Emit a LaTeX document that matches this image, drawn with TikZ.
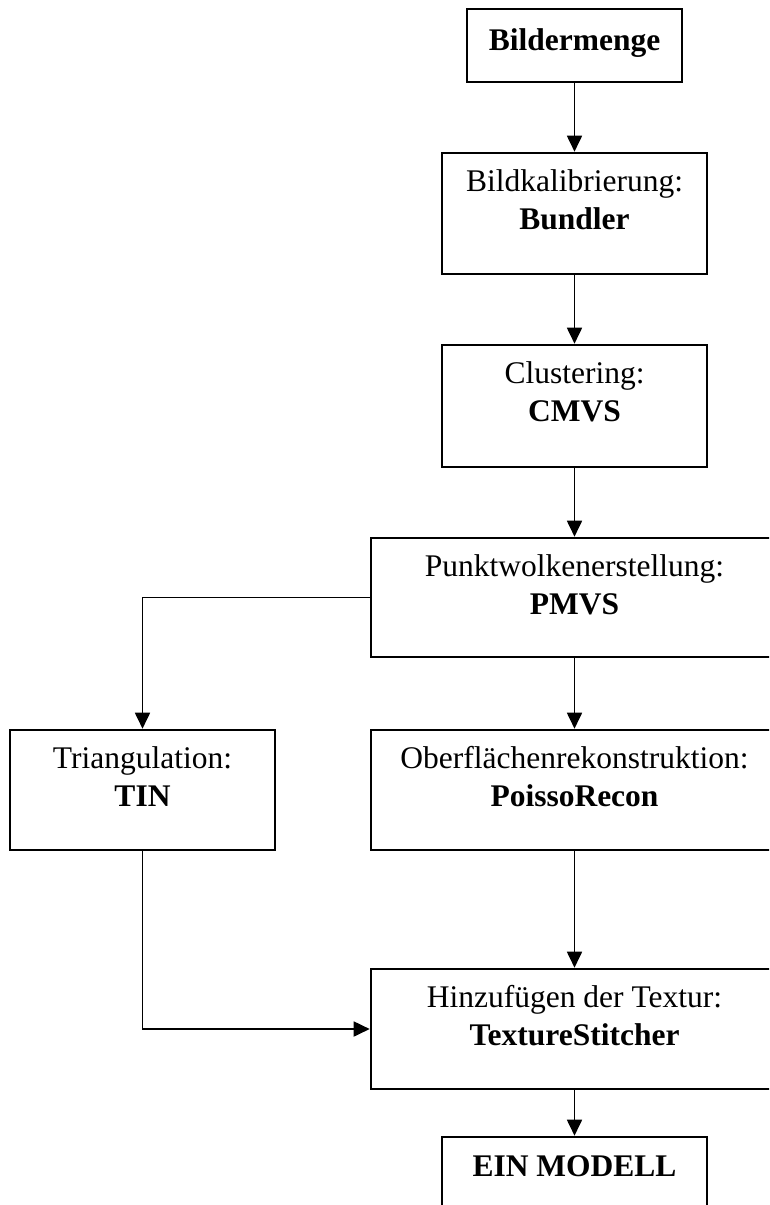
\documentclass[tikz,border=0pt]{standalone}
\usepackage{fontspec}
\setmainfont{Liberation Serif}
\usetikzlibrary{arrows.meta}
\begin{document}
\begin{tikzpicture}[x=1pt,y=-1pt,
  box/.style 2 args={draw, line width=2.6pt, inner sep=0pt, minimum width=#1, minimum height=#2},
  lbl/.style={anchor=north, align=center, inner sep=0pt, font=\fontsize{31.5}{38}\selectfont},
  arr/.style={line width=1.8pt, -{Triangle[length=16pt,width=15pt]}}]
\useasboundingbox (0,0) rectangle (769,1205);
\clip (0,0) rectangle (769,1205);
% boxes
\node[box={215pt}{73pt}]  (b1) at (574.5,45.5) {};
\node[box={265pt}{121pt}] (b2) at (574.5,213.5) {};
\node[box={265pt}{122pt}] (b3) at (574.5,406) {};
\node[box={407pt}{119pt}] (b4) at (574.5,597.5) {};
\node[box={265pt}{120pt}] (b5) at (142.5,790) {};
\node[box={407pt}{120pt}] (b6) at (574.5,790) {};
\node[box={407pt}{120pt}] (b7) at (574.5,1029) {};
\node[box={265pt}{73pt}]  (b8) at (574.5,1173.5) {};
% texts
\node[lbl] (t1) at ([yshift=-16.4pt]b1.north) {\strut\textbf{Bildermenge}};
\node[lbl] (t2) at ([yshift=-13.4pt]b2.north) {\strut Bildkalibrierung:\\\strut\textbf{Bundler}};
\node[lbl] (t3) at ([yshift=-13.4pt]b3.north) {\strut Clustering:\\\strut\textbf{CMVS}};
\node[lbl] (t4) at ([yshift=-13.4pt]b4.north) {\strut Punktwolkenerstellung:\\\strut\textbf{PMVS}};
\node[lbl] (t5) at ([yshift=-13.4pt]b5.north) {\strut Triangulation:\\\strut\textbf{TIN}};
\node[lbl] (t6) at ([yshift=-13.4pt]b6.north) {\strut Oberflächenrekonstruktion:\\\strut\textbf{PoissoRecon}};
\node[lbl] (t7) at ([yshift=-13.4pt]b7.north) {\strut Hinzufügen der Textur:\\\strut\textbf{TextureStitcher}};
\node[lbl] (t8) at ([yshift=-14.4pt]b8.north) {\strut\textbf{EIN MODELL}};
% connectors
\draw[arr] (b1) -- (b2);
\draw[arr] (b2) -- (b3);
\draw[arr] (b3) -- (b4);
\draw[arr] (b4) -- (b6);
\draw[arr] (b6) -- (b7);
\draw[arr] (b7) -- (b8);
\draw[arr] (b4.west) -| (b5.north);
\draw[arr] (b5.south) |- (b7.west);
\end{tikzpicture}
\end{document}
